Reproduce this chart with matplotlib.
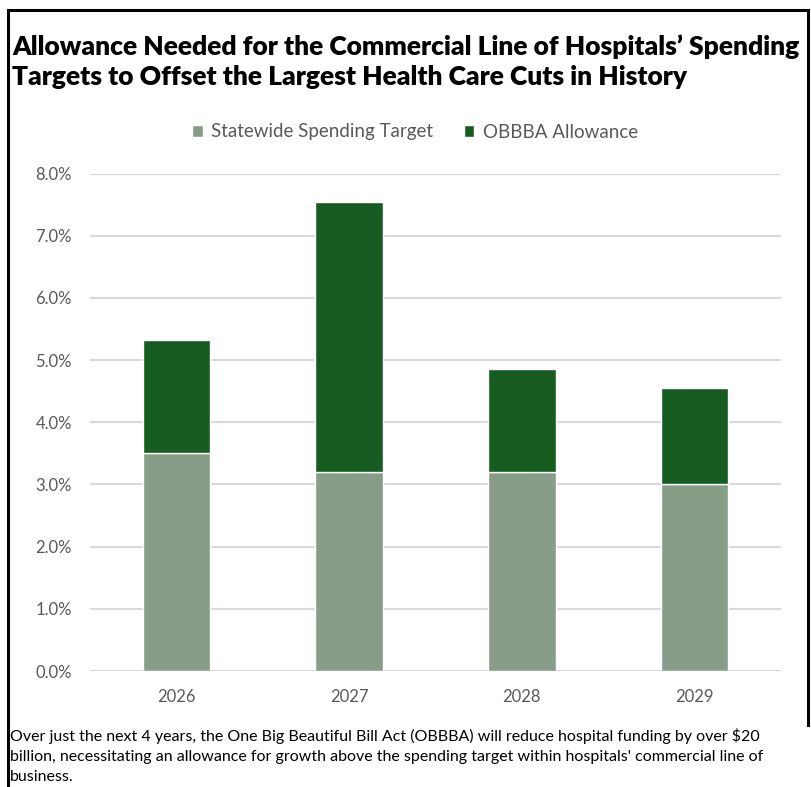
import matplotlib.pyplot as plt
from matplotlib.lines import Line2D
from matplotlib.ticker import FuncFormatter
import numpy as np

years = ["2026", "2027", "2028", "2029"]
spending_target = [3.5, 3.2, 3.2, 3.0]
obbba_allowance = [1.82, 4.34, 1.66, 1.55]
y_ticks = [0, 1, 2, 3, 4, 5, 6, 7, 8]

title = ("Allowance Needed for the Commercial Line of Hospitals\u2019 Spending\n"
         "Targets to Offset the Largest Health Care Cuts in History")
footnote = ("Over just the next 4 years, the One Big Beautiful Bill Act (OBBBA) will reduce hospital funding by over $20\n"
            "billion, necessitating an allowance for growth above the spending target within hospitals' commercial line of\n"
            "business.")

LIGHT = "#879d87"
DARK = "#175c21"
GREY_TXT = "#595959"

plt.rcParams["font.family"] = ["Lato", "DejaVu Sans"]

W, H = 812, 787
fig = plt.figure(figsize=(W / 100, H / 100), dpi=100)
ax = fig.add_axes([90 / W, 1 - 671 / H, (781 - 90) / W, (671 - 173.5) / H])

x = np.arange(len(years))
ax.bar(x, spending_target, width=0.39, color=LIGHT, edgecolor="white",
       linewidth=1, label="Statewide Spending Target", zorder=3)
ax.bar(x, obbba_allowance, bottom=spending_target, width=0.39, color=DARK,
       edgecolor="white", linewidth=1, label="OBBBA Allowance", zorder=3)

ax.set_xlim(-0.5, len(years) - 0.5)
ax.set_ylim(0, 8)
ax.set_yticks(y_ticks)
ax.yaxis.set_major_formatter(FuncFormatter(lambda v, _: f"{v:.1f}%"))
ax.set_xticks(x)
ax.set_xticklabels(years)
ax.tick_params(length=0, labelsize=12, labelcolor=GREY_TXT)
ax.tick_params(axis="y", pad=13)
ax.tick_params(axis="x", pad=13)
ax.grid(axis="y", color="#d9d9d9", linewidth=1.5, zorder=0)
for s in ax.spines.values():
    s.set_visible(False)

leg = fig.legend(loc="center", bbox_to_anchor=(415 / W, 1 - 132 / H), ncol=2,
                 frameon=False, fontsize=13.5, handlelength=0.55, handleheight=0.55,
                 handletextpad=0.45, columnspacing=1.65)
for t in leg.get_texts():
    t.set_color(GREY_TXT)

fig.text(12 / W, 1 - 62 / H, title, fontsize=19.0, fontweight="heavy",
         va="center", ha="left", linespacing=1.31)
fig.text(10 / W, 1 - 756 / H, footnote, fontsize=11.5, va="center", ha="left",
         linespacing=1.52)

# frame around the chart
k = dict(color="black", linewidth=2.2, transform=fig.transFigure)
fig.add_artist(Line2D([8 / W, 8 / W], [0, 1 - 10 / H], **k))
fig.add_artist(Line2D([8 / W, 808 / W], [1 - 10 / H, 1 - 10 / H], **k))
fig.add_artist(Line2D([808 / W, 808 / W], [1 - 725 / H, 1 - 10 / H], **k))

fig.savefig("out.png", dpi=100)
